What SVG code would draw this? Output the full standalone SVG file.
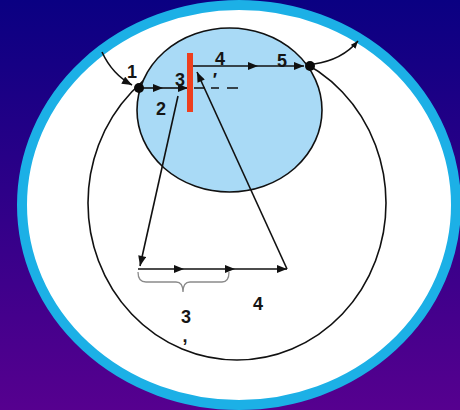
<svg xmlns="http://www.w3.org/2000/svg" width="460" height="410" viewBox="0 0 460 410">
<defs>
<linearGradient id="bg" x1="0" y1="0" x2="0" y2="1">
<stop offset="0" stop-color="#0a0082"/>
<stop offset="1" stop-color="#56008f"/>
</linearGradient>
<marker id="ah" viewBox="0 0 10 8" refX="10" refY="4" markerWidth="11" markerHeight="8" markerUnits="userSpaceOnUse" orient="auto">
<path d="M0,0 L10,4 L0,8 Z" fill="#111"/>
</marker>
<marker id="ahs" viewBox="0 0 10 8" refX="10" refY="4" markerWidth="8" markerHeight="6" markerUnits="userSpaceOnUse" orient="auto">
<path d="M0,0 L10,4 L0,8 Z" fill="#111"/>
</marker>
</defs>
<style>
.ln{fill:none;stroke:#111;stroke-width:1.6}
.ar{fill:none;stroke:#111;stroke-width:1.6;marker-end:url(#ah)}
.lbl{font-family:"Liberation Sans",Arial,sans-serif;font-size:18px;font-weight:bold;fill:#151515;text-anchor:middle}
.dot{fill:#0a0a0a}
</style>
<rect width="460" height="410" fill="url(#bg)"/>
<g id="frame">
<ellipse cx="239" cy="205" rx="217" ry="200" fill="#ffffff" stroke="#1cb0e6" stroke-width="10"/>
</g>
<g id="big-circle">
<ellipse cx="237" cy="203" rx="149" ry="157" fill="none" stroke="#111" stroke-width="1.6"/>
</g>
<g id="small-circle">
<ellipse cx="229.5" cy="110" rx="92.5" ry="82" fill="#a9daf6" stroke="#111" stroke-width="1.6"/>
</g>
<g id="connectors">
<path class="ar" d="M102,52 Q112,74 132,85"/>
<path class="ar" d="M139,88 L163,88"/>
<path class="ar" d="M163,88 L188,88"/>
<path class="ln" d="M194,88 L205,88 M211,88 L219,88 M227,88 L238,88" stroke-width="1.4"/>
<path class="ar" d="M193,66 L258,66"/>
<path class="ar" d="M258,66 L304,66"/>
<path class="ln" d="M314,64 Q342,60 358,41" style="marker-end:url(#ahs)"/>
<path class="ar" d="M178,96 L140,266"/>
<path class="ar" d="M138,269 L184,269"/>
<path class="ar" d="M184,269 L235,269"/>
<path class="ar" d="M235,269 L287,269"/>
<path class="ar" d="M287,269 L197,72"/>
<path d="M138,272 Q138,282 146,282 L176,282 Q183,282 183,292 Q183,282 190,282 L222,282 Q229,282 229,272" fill="none" stroke="#8a8a8a" stroke-width="1.3"/>
</g>
<g id="red-bar">
<rect x="187" y="53" width="6" height="59" fill="#ee3f1e"/>
</g>
<g id="point-1">
<circle class="dot" cx="139" cy="88" r="5"/>
<text class="lbl" x="132" y="78">1</text>
</g>
<g id="point-5">
<circle class="dot" cx="310" cy="66" r="5"/>
<text class="lbl" x="282" y="67">5</text>
</g>
<g id="labels">
<text class="lbl" x="161" y="115">2</text>
<text class="lbl" x="180" y="86">3</text>
<text class="lbl" x="215" y="86" font-size="16">′</text>
<text class="lbl" x="220" y="65">4</text>
<text class="lbl" x="186" y="323">3</text>
<text class="lbl" x="185" y="342" font-size="13">,</text>
<text class="lbl" x="258" y="310">4</text>
</g>
</svg>
